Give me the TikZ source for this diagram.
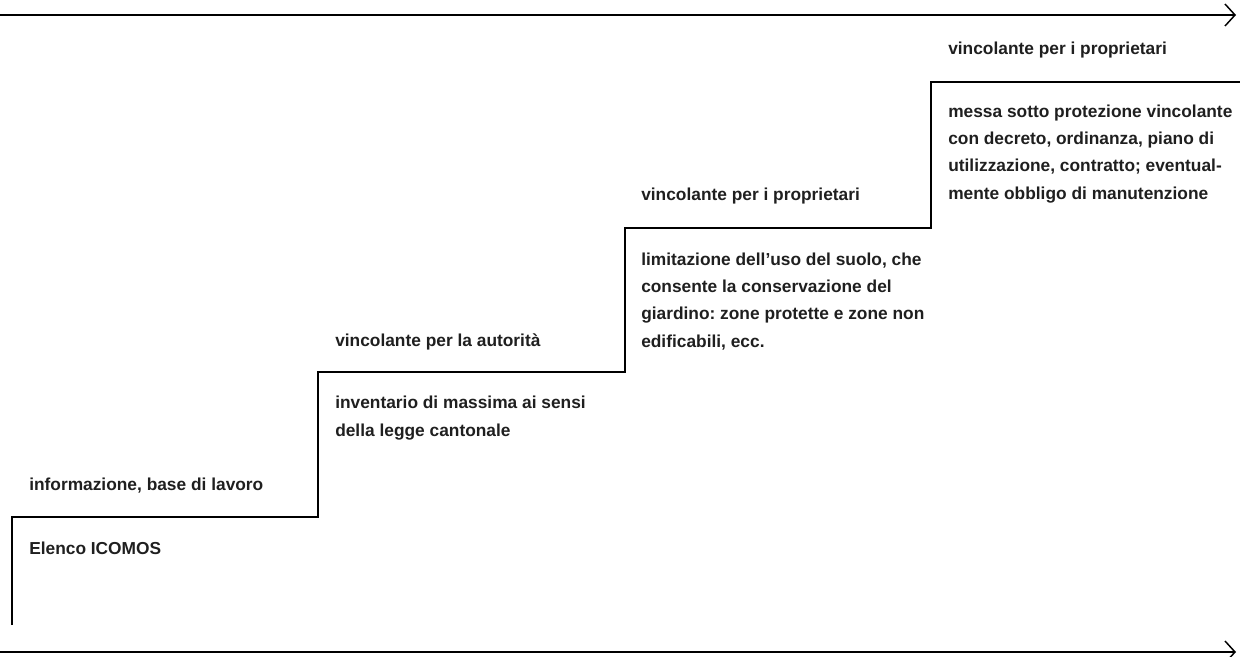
\documentclass[tikz,border=0pt]{standalone}
\usepackage{fontspec}
\setmainfont{Liberation Sans}
\frenchspacing
\usetikzlibrary{arrows.meta}
\tikzset{lbl/.style={anchor=base west, inner sep=0pt, align=left, text=black!88,
  font=\fontsize{13}{20.3}\selectfont\bfseries}}
\tikzset{stair/.style={line width=1.3pt, line join=miter}}
\tikzset{axis/.style={line width=1.1pt, -{Straight Barb[length=7.5pt,width=16.5pt]}}}

\begin{document}
\begin{tikzpicture}[x=0.75pt, y=-0.75pt]
\useasboundingbox (0,0) rectangle (1240,657);
% time axes
\coordinate (t0) at (0,15);
\coordinate (t1) at (1236,15);
\coordinate (b0) at (0,652);
\coordinate (b1) at (1236,652);
\draw[axis] (t0)--(t1);
\draw[axis] (b0)--(b1);

% steps
\coordinate (s0) at (12,625);
\coordinate (s1) at (12,517);
\coordinate (s2) at (318,372);
\coordinate (s3) at (625,228);
\coordinate (s4) at (931,82);
\coordinate (s5) at (1240,82);
\draw[stair] (s0)--(s1)-|(s2)-|(s3)-|(s4)--(s5);

% base anchor of a multi-line node = baseline of its last line
\node[lbl] (use1) at (29,490) {informazione, base di lavoro};
\node[lbl] (tool1) at (29,554) {Elenco ICOMOS};

\node[lbl] (use2) at (335,346) {vincolante per la autorità};
\node[lbl] (tool2) at (335,436) {inventario di massima ai sensi\\della legge cantonale};

\node[lbl] (use3) at (641,200) {vincolante per i proprietari};
\node[lbl] (tool3) at (641,347) {limitazione dell’uso del suolo, che\\consente la conservazione del\\giardino: zone protette e zone non\\edificabili, ecc.};

\node[lbl] (use4) at (948,54) {vincolante per i proprietari};
\node[lbl] (tool4) at (948,199) {messa sotto protezione vincolante\\con decreto, ordinanza, piano di\\utilizzazione, contratto; eventual-\\mente obbligo di manutenzione};

\end{tikzpicture}
\end{document}
